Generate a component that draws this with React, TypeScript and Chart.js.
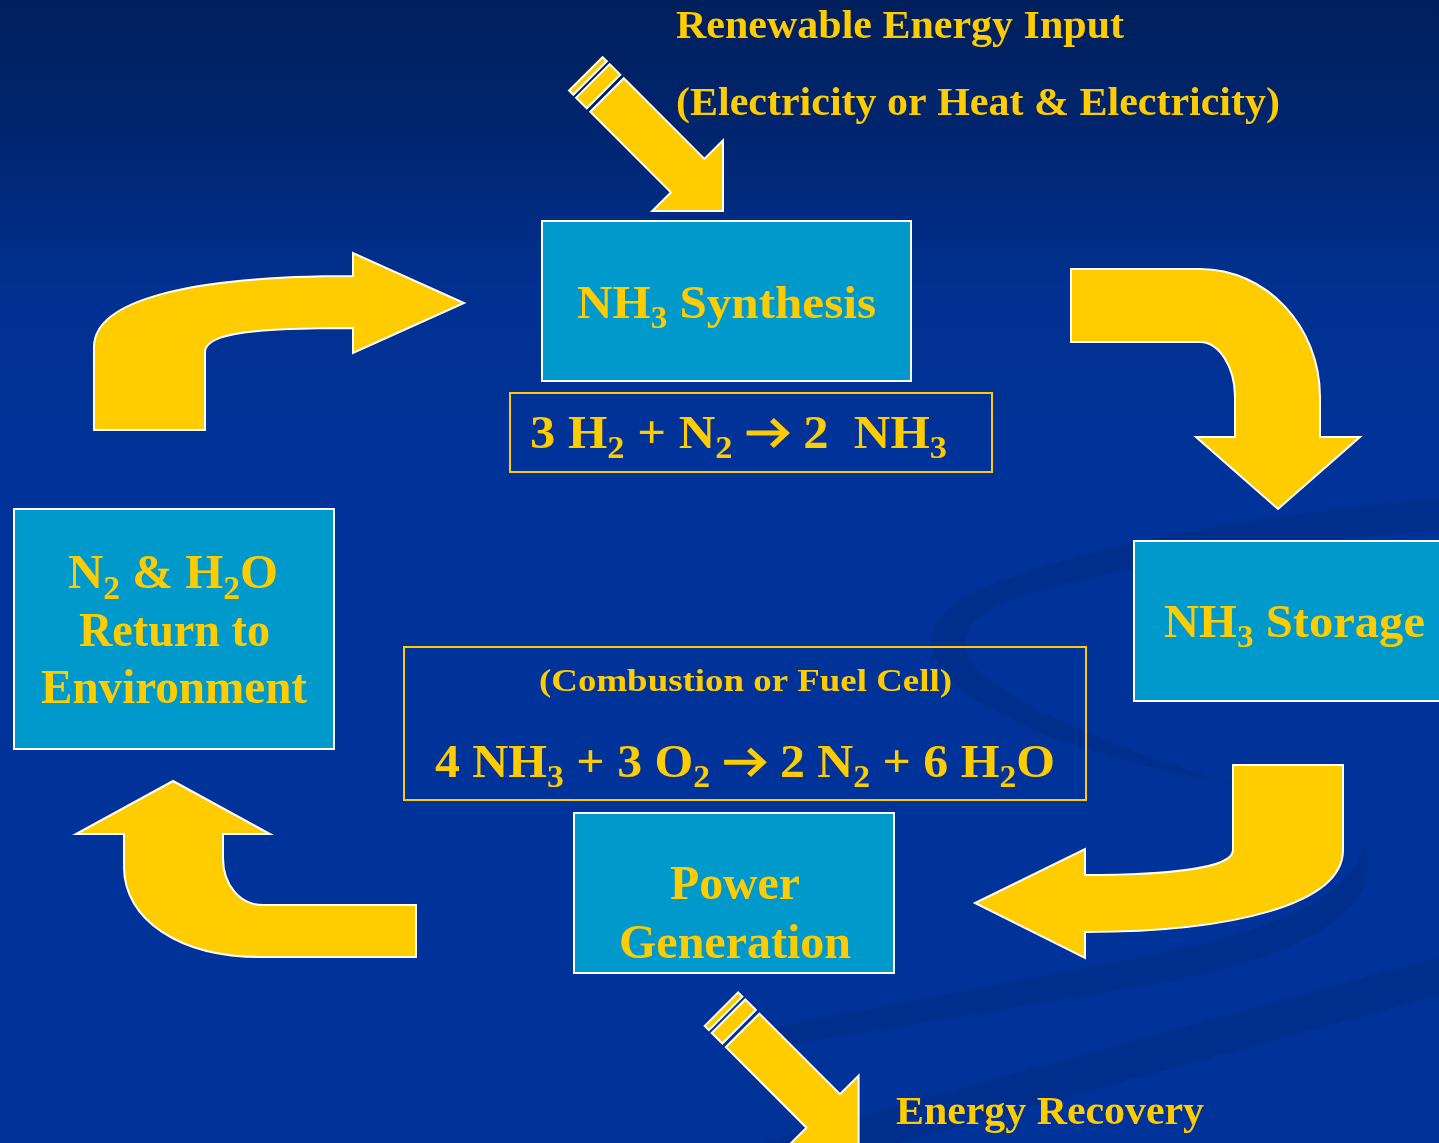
import React, { useEffect, useRef } from "react";
import { Chart, registerables } from "chart.js";

Chart.register(...registerables);

// ---- Diagram data (in diagram units, mapped through the chart's linear scales) ----
const nodeNames = ["NH3 Synthesis", "NH3 Storage", "Power Generation", "N2 & H2O Return"];
const nodeLeft = [542, 1134, 574, 14];
const nodeTop = [221, 541, 813, 509];
const nodeRight = [911, 1442, 894, 334];
const nodeBottom = [381, 701, 973, 749];

const equationLeft = [510, 404];
const equationTop = [393, 647];
const equationRight = [992, 1086];
const equationBottom = [472, 800];

const textContent = [
  "Renewable Energy Input",
  "(Electricity or Heat & Electricity)",
  "NH_3 Synthesis",
  "3 H_2 + N_2 → 2  NH_3",
  "N_2 & H_2O",
  "Return to",
  "Environment",
  "NH_3 Storage",
  "(Combustion or Fuel Cell)",
  "4 NH_3 + 3 O_2 → 2 N_2 + 6 H_2O",
  "Power",
  "Generation",
  "Energy Recovery",
];
const textLeft = [676, 676, 577, 530, 68, 79, 41, 1164, 539, 435, 670, 619, 896];
const textRight = [1124, 1280, 876, 947, 278, 270, 307, 1425, 952, 1055, 800, 851, 1204];
const textBaseline = [38, 115, 318, 448, 588, 646, 703, 637, 691, 777, 899, 958, 1124];
const textSize = [39, 40, 46, 47, 48, 48, 48, 47, 31, 46, 48, 48, 40];

// curved flow arrows: path commands
const flowArrowA = [
  ["M", 94, 430], ["L", 94, 347], ["C", 94, 300, 190, 276, 353, 276], ["L", 353, 253], ["L", 464, 303],
  ["L", 353, 353], ["L", 353, 328], ["C", 260, 328, 205, 332, 205, 352], ["L", 205, 430], ["Z"],
];
const flowArrowB = [
  ["M", 1071, 269], ["L", 1200, 269], ["C", 1266, 269, 1320, 326, 1320, 397], ["L", 1320, 437], ["L", 1360, 437],
  ["L", 1278, 509], ["L", 1196, 437], ["L", 1235, 437], ["L", 1235, 397], ["C", 1235, 367, 1219, 342, 1200, 342],
  ["L", 1071, 342], ["Z"],
];
const flowArrowC = [
  ["M", 1233, 765], ["L", 1343, 765], ["L", 1343, 850], ["C", 1343, 905, 1230, 932, 1085, 932], ["L", 1085, 958],
  ["L", 975, 903], ["L", 1085, 849], ["L", 1085, 875], ["C", 1170, 875, 1233, 868, 1233, 850], ["Z"],
];
const flowArrowD = [
  ["M", 173, 781], ["L", 270, 834], ["L", 223, 834], ["L", 223, 858], ["C", 223, 885, 240, 905, 263, 905],
  ["L", 416, 905], ["L", 416, 957], ["L", 260, 957], ["C", 180, 957, 124, 920, 124, 867], ["L", 124, 834],
  ["L", 76, 834], ["Z"],
];
const flowArrows = [flowArrowA, flowArrowB, flowArrowC, flowArrowD];

// striped diagonal arrows (tip points)
const diagTipX = [723, 858.6];
const diagTipY = [211, 1146.3];

// background swooshes
const swooshU = [
  ["M", 1439, 498], ["C", 1250, 515, 1050, 550, 960, 600], ["C", 915, 630, 925, 665, 975, 700],
  ["C", 1050, 745, 1150, 770, 1240, 785], ["C", 1150, 760, 1040, 720, 990, 680],
  ["C", 950, 650, 960, 620, 1010, 600], ["C", 1100, 570, 1250, 545, 1439, 530], ["Z"],
];
const swooshA = [
  ["M", 1365, 820], ["C", 1372, 885, 1300, 925, 1150, 955], ["L", 760, 1030], ["L", 760, 1050],
  ["L", 1150, 985], ["C", 1300, 958, 1372, 915, 1368, 860], ["Z"],
];
const swooshB = [["M", 760, 1143], ["L", 1439, 957], ["L", 1439, 995], ["L", 900, 1143], ["Z"]];
const swooshes = [swooshU, swooshA, swooshB];

const GOLD = "#FFCC00";
const BOXBLUE = "#0099CC";
const FAMILY = '"Liberation Serif", "Times New Roman", serif';

function tracePath(ctx: CanvasRenderingContext2D, cmds: any[], px: (v: number) => number, py: (v: number) => number) {
  ctx.beginPath();
  for (const c of cmds) {
    if (c[0] === "M") ctx.moveTo(px(c[1]), py(c[2]));
    else if (c[0] === "L") ctx.lineTo(px(c[1]), py(c[2]));
    else if (c[0] === "C") ctx.bezierCurveTo(px(c[1]), py(c[2]), px(c[3]), py(c[4]), px(c[5]), py(c[6]));
    else if (c[0] === "Z") ctx.closePath();
  }
}

type Seg = { kind: "n" | "s" | "a"; t: string };
function parseRich(s: string): Seg[] {
  const segs: Seg[] = [];
  let buf = "";
  for (let i = 0; i < s.length; i++) {
    const ch = s[i];
    if (ch === "_" && i + 1 < s.length) {
      if (buf) { segs.push({ kind: "n", t: buf }); buf = ""; }
      segs.push({ kind: "s", t: s[i + 1] });
      i++;
    } else if (ch === "→") {
      if (buf) { segs.push({ kind: "n", t: buf }); buf = ""; }
      segs.push({ kind: "a", t: "" });
    } else buf += ch;
  }
  if (buf) segs.push({ kind: "n", t: buf });
  return segs;
}

function drawRich(ctx: CanvasRenderingContext2D, text: string, xL: number, xR: number, base: number, size: number) {
  const segs = parseRich(text);
  const mainFont = `bold ${size}px ${FAMILY}`;
  const subFont = `bold ${Math.round(size * 0.68)}px ${FAMILY}`;
  const widths = segs.map((sg) => {
    if (sg.kind === "a") return size * 0.9;
    ctx.font = sg.kind === "s" ? subFont : mainFont;
    return ctx.measureText(sg.t).width;
  });
  const total = widths.reduce((a, b) => a + b, 0);
  const sx = (xR - xL) / total;
  ctx.save();
  ctx.translate(xL, base);
  ctx.scale(sx, 1);
  ctx.fillStyle = GOLD;
  ctx.strokeStyle = GOLD;
  ctx.textBaseline = "alphabetic";
  ctx.textAlign = "left";
  let x = 0;
  segs.forEach((sg, i) => {
    if (sg.kind === "a") {
      const cy = -size * 0.32;
      const x0 = x + size * 0.03;
      const x1 = x + size * 0.85;
      ctx.lineWidth = size * 0.11;
      ctx.lineCap = "butt";
      ctx.lineJoin = "miter";
      ctx.beginPath();
      ctx.moveTo(x0, cy);
      ctx.lineTo(x1 - size * 0.08, cy);
      ctx.stroke();
      ctx.beginPath();
      ctx.moveTo(x1 - size * 0.32, cy - size * 0.28);
      ctx.lineTo(x1 - size * 0.04, cy);
      ctx.lineTo(x1 - size * 0.32, cy + size * 0.28);
      ctx.stroke();
    } else if (sg.kind === "s") {
      ctx.font = subFont;
      ctx.fillText(sg.t, x, size * 0.22);
    } else {
      ctx.font = mainFont;
      ctx.fillText(sg.t, x, 0);
    }
    x += widths[i];
  });
  ctx.restore();
}

const diagramPlugin = {
  id: "ammoniaCycle",
  beforeDraw(chart: any) {
    const ctx: CanvasRenderingContext2D = chart.ctx;
    const xs = chart.scales.x;
    const ys = chart.scales.y;
    const px = (v: number) => xs.getPixelForValue(v);
    const py = (v: number) => ys.getPixelForValue(v);

    // background
    ctx.save();
    const g = ctx.createLinearGradient(0, py(0), 0, py(1143));
    g.addColorStop(0, "#001f5c");
    g.addColorStop(0.12, "#002670");
    g.addColorStop(0.25, "#003090");
    g.addColorStop(0.4, "#003399");
    g.addColorStop(1, "#003399");
    ctx.fillStyle = g;
    ctx.fillRect(px(0), py(0), px(1439) - px(0), py(1143) - py(0));

    ctx.fillStyle = "rgba(0, 35, 110, 0.28)";
    swooshes.forEach((s) => {
      tracePath(ctx, s, px, py);
      ctx.fill();
    });
    ctx.restore();
  },
  afterDatasetsDraw(chart: any) {
    const ctx: CanvasRenderingContext2D = chart.ctx;
    const xs = chart.scales.x;
    const ys = chart.scales.y;
    const px = (v: number) => xs.getPixelForValue(v);
    const py = (v: number) => ys.getPixelForValue(v);
    ctx.save();

    // flow arrows
    ctx.lineJoin = "miter";
    ctx.fillStyle = GOLD;
    ctx.strokeStyle = "#ffffff";
    ctx.lineWidth = 2;
    flowArrows.forEach((a) => {
      tracePath(ctx, a, px, py);
      ctx.fill();
      ctx.stroke();
    });

    // striped diagonal arrows
    const r2 = Math.SQRT1_2;
    diagTipX.forEach((tx, i) => {
      const ty = diagTipY[i];
      const P = (a: number, b: number): [number, number] => [tx - a * r2 + b * r2, ty - a * r2 - b * r2];
      const poly = (pts: [number, number][]) => {
        ctx.beginPath();
        pts.forEach((p, j) => (j ? ctx.lineTo(px(p[0]), py(p[1])) : ctx.moveTo(px(p[0]), py(p[1]))));
        ctx.closePath();
        ctx.fill();
        ctx.stroke();
      };
      const hw = 23.7;
      poly([P(0, 0), P(50, 50), P(50, hw), P(164, hw), P(164, -hw), P(50, -hw), P(50, -50)]);
      poly([P(169, hw), P(184, hw), P(184, -hw), P(169, -hw)]);
      poly([P(188, hw), P(194, hw), P(194, -hw), P(188, -hw)]);
    });

    // process boxes
    ctx.lineWidth = 2;
    nodeNames.forEach((_, i) => {
      const x0 = px(nodeLeft[i]), y0 = py(nodeTop[i]);
      const w = px(nodeRight[i]) - x0, h = py(nodeBottom[i]) - y0;
      ctx.fillStyle = BOXBLUE;
      ctx.fillRect(x0, y0, w, h);
      ctx.strokeStyle = "#ffffff";
      ctx.strokeRect(x0, y0, w, h);
    });

    // equation frames
    equationLeft.forEach((l, i) => {
      const x0 = px(l), y0 = py(equationTop[i]);
      ctx.strokeStyle = GOLD;
      ctx.lineWidth = 2;
      ctx.strokeRect(x0, y0, px(equationRight[i]) - x0, py(equationBottom[i]) - y0);
    });

    // texts
    textContent.forEach((t, i) => {
      drawRich(ctx, t, px(textLeft[i]), px(textRight[i]), py(textBaseline[i]), textSize[i]);
    });
    ctx.restore();
  },
};

export default function App() {
  const ref = useRef<HTMLCanvasElement | null>(null);
  useEffect(() => {
    document.body.style.margin = "0";
    document.body.style.overflow = "hidden";
    document.body.style.background = "#003399";
    const canvas = ref.current;
    if (!canvas) return;
    const chart = new Chart(canvas, {
      type: "scatter",
      data: {
        datasets: [
          {
            label: "nodes",
            data: nodeNames.map((_, i) => ({
              x: (nodeLeft[i] + nodeRight[i]) / 2,
              y: (nodeTop[i] + nodeBottom[i]) / 2,
            })),
            pointRadius: 0,
            pointHoverRadius: 0,
          },
        ],
      },
      options: {
        animation: false,
        responsive: false,
        maintainAspectRatio: false,
        devicePixelRatio: 1,
        layout: { padding: 0 },
        events: [],
        plugins: { legend: { display: false }, tooltip: { enabled: false }, title: { display: false } },
        scales: {
          x: { type: "linear", min: 0, max: 1439, display: false },
          y: { type: "linear", min: 0, max: 1143, reverse: true, display: false },
        },
      },
      plugins: [diagramPlugin],
    });
    return () => chart.destroy();
  }, []);
  return (
    <div style={{ width: 1439, height: 1143, position: "relative" }}>
      <canvas ref={ref} width={1439} height={1143} style={{ display: "block", width: 1439, height: 1143 }} />
    </div>
  );
}
